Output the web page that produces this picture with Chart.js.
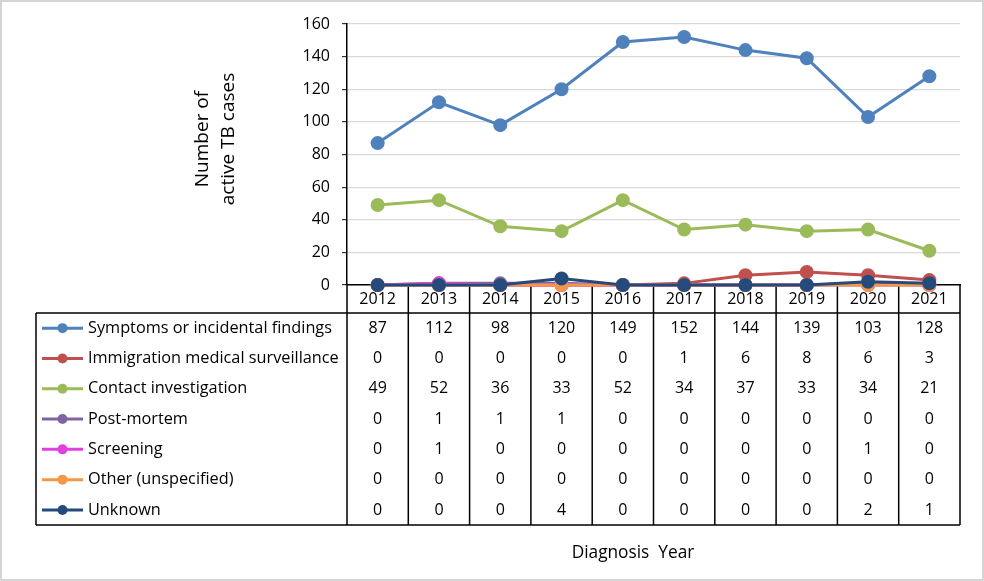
<!DOCTYPE html>
<html>
<head>
<meta charset="utf-8">
<script src="https://cdn.jsdelivr.net/npm/chart.js@4.4.1/dist/chart.umd.min.js"></script>
<style>
  html, body { margin: 0; padding: 0; background: #ffffff; }
  #wrap { width: 984px; height: 581px; }
</style>
</head>
<body>
<div id="wrap"><canvas id="c" width="984" height="581"></canvas></div>
<script>
const years = ['2012','2013','2014','2015','2016','2017','2018','2019','2020','2021'];
const seriesNames = ['Symptoms or incidental findings','Immigration medical surveillance','Contact investigation','Post-mortem','Screening','Other (unspecified)','Unknown'];
const symptoms    = [87,112,98,120,149,152,144,139,103,128];
const immigration = [0,0,0,0,0,1,6,8,6,3];
const contact     = [49,52,36,33,52,34,37,33,34,21];
const postMortem  = [0,1,1,1,0,0,0,0,0,0];
const screening   = [0,1,0,0,0,0,0,0,1,0];
const other       = [0,0,0,0,0,0,0,0,0,0];
const unknown     = [0,0,0,4,0,0,0,0,2,1];
const seriesValues = [symptoms, immigration, contact, postMortem, screening, other, unknown];
const seriesColors = ['#4F81BD','#C0504D','#9BBB59','#8064A2','#E040E0','#F79646','#254B7C'];
const yTicksMin = 0, yTicksMax = 160, yTicksStep = 20;
const yTitleLines = ['Number of', 'active TB cases'];
const xTitle = 'Diagnosis  Year';

const FONT = '"Open Sans", sans-serif';
const FS = 16;

const datasets = seriesValues.map((vals, i) => ({
  label: seriesNames[i],
  data: vals,
  borderColor: seriesColors[i],
  backgroundColor: seriesColors[i],
  pointBackgroundColor: seriesColors[i],
  pointBorderColor: seriesColors[i],
  borderWidth: 3,
  pointRadius: 5.5,
  pointHoverRadius: 5.5,
  tension: 0,
  clip: false,
  order: seriesValues.length - 1 - i
}));

const tablePlugin = {
  id: 'dataTable',
  beforeDraw(chart) {
    const ctx = chart.ctx;
    ctx.save();
    ctx.fillStyle = '#ffffff';
    ctx.fillRect(0, 0, chart.width, chart.height);
    ctx.strokeStyle = '#d4d4d4';
    ctx.lineWidth = 2;
    ctx.strokeRect(1, 1, chart.width - 2, chart.height - 2);
    ctx.restore();
  },
  beforeDatasetsDraw(chart) {
    const ctx = chart.ctx;
    const x = chart.scales.x;
    const area = chart.chartArea;
    const colW = x.getPixelForValue(1) - x.getPixelForValue(0);
    const left = 36;
    const axisBottom = area.bottom;
    const headerBottom = axisBottom + 28;
    const rowH = 30.3;
    const nRows = seriesNames.length;
    const tableBottom = headerBottom + rowH * nRows;
    const plotLeft = x.getPixelForValue(0) - colW / 2;
    const plotRight = x.getPixelForValue(years.length - 1) + colW / 2;

    ctx.save();
    ctx.strokeStyle = '#000000';
    ctx.lineWidth = 1.5;
    ctx.beginPath();
    for (let i = 0; i <= years.length; i++) {
      const px = plotLeft + i * colW;
      ctx.moveTo(px, axisBottom);
      ctx.lineTo(px, tableBottom);
    }
    ctx.moveTo(left, headerBottom);
    ctx.lineTo(plotRight, headerBottom);
    ctx.moveTo(left, tableBottom);
    ctx.lineTo(plotRight, tableBottom);
    ctx.moveTo(left, headerBottom);
    ctx.lineTo(left, tableBottom);
    ctx.stroke();

    ctx.fillStyle = '#000000';
    ctx.textBaseline = 'middle';
    ctx.textAlign = 'center';
    ctx.font = FS + 'px ' + FONT;
    years.forEach((yr, i) => {
      ctx.fillText(yr, x.getPixelForValue(i), axisBottom + 14);
    });
    for (let r = 0; r < nRows; r++) {
      const cy = headerBottom + rowH * (r + 0.5);
      ctx.textAlign = 'center';
      ctx.font = FS + 'px ' + FONT;
      seriesValues[r].forEach((v, i) => {
        ctx.fillText(String(v), x.getPixelForValue(i), cy);
      });
      ctx.strokeStyle = seriesColors[r];
      ctx.lineWidth = 3;
      ctx.beginPath();
      ctx.moveTo(42, cy);
      ctx.lineTo(83, cy);
      ctx.stroke();
      ctx.fillStyle = seriesColors[r];
      ctx.beginPath();
      ctx.arc(62.5, cy, 5, 0, Math.PI * 2);
      ctx.fill();
      ctx.fillStyle = '#000000';
      ctx.textAlign = 'left';
      ctx.font = '16.3px ' + FONT;
      ctx.fillText(seriesNames[r], 88, cy);
    }

    ctx.textAlign = 'center';
    ctx.textBaseline = 'middle';
    ctx.font = '17.3px ' + FONT;
    ctx.fillText(xTitle, 633, 553);
    ctx.font = '19px ' + FONT;
    ctx.save();
    ctx.translate(203, 139);
    ctx.rotate(-Math.PI / 2);
    ctx.fillText(yTitleLines[0], 0, 0);
    ctx.restore();
    ctx.save();
    ctx.translate(229, 139);
    ctx.rotate(-Math.PI / 2);
    ctx.fillText(yTitleLines[1], 0, 0);
    ctx.restore();
    ctx.restore();
  }
};

new Chart(document.getElementById('c'), {
  type: 'line',
  data: { labels: years, datasets },
  options: {
    responsive: false,
    animation: false,
    events: [],
    layout: { padding: { left: 0, top: 24, right: 24, bottom: 296 } },
    plugins: { legend: { display: false }, tooltip: { enabled: false }, title: { display: false } },
    scales: {
      x: {
        type: 'category',
        offset: true,
        grid: { display: false, drawTicks: false },
        border: { display: true, color: '#000000', width: 1.5 },
        ticks: { display: false },
        afterFit(scale) { scale.height = 0; }
      },
      y: {
        min: yTicksMin,
        max: yTicksMax,
        ticks: { stepSize: yTicksStep, padding: 12, color: '#000000', font: { family: FONT, size: FS } },
        grid: { color: '#d9d9d9', lineWidth: 1.2, tickLength: 5, tickColor: '#333333', drawTicks: true },
        border: { display: true, color: '#000000', width: 1.5 },
        afterFit(scale) { scale.width = 347; }
      }
    }
  },
  plugins: [tablePlugin]
});
</script>
</body>
</html>
